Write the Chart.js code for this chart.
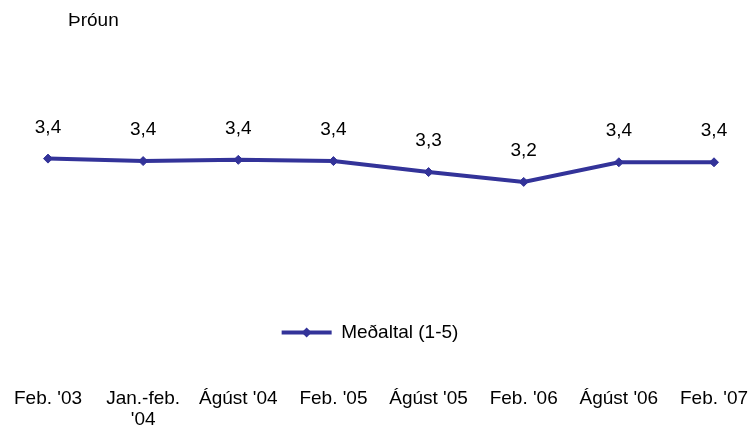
<!DOCTYPE html>
<html>
<head>
<meta charset="utf-8">
<script src="https://cdn.jsdelivr.net/npm/chart.js@4/dist/chart.umd.min.js"></script>
<style>
html,body{margin:0;padding:0;background:#fff;}
#wrap{width:755px;height:435px;}
</style>
</head>
<body>
<div id="wrap"><canvas id="c" width="755" height="435"></canvas></div>
<script>
const chartTitle = 'Þróun';
const seriesLabel = 'Meðaltal (1-5)';
const categories = ["Feb. '03", ["Jan.-feb.", "'04"], "Ágúst '04", "Feb. '05", "Ágúst '05", "Feb. '06", "Ágúst '06", "Feb. '07"];
const values = [3.42, 3.40, 3.41, 3.40, 3.31, 3.23, 3.39, 3.39];

const FONT = '"Liberation Sans", Arial, Helvetica, sans-serif';
const FONT_SIZE = 19;
const LINE_COLOR = '#333399';

function fmt(v) { return v.toFixed(1).replace('.', ','); }

const extras = {
  id: 'extras',
  afterLayout(chart) {
    const lg = chart.legend;
    if (lg) { lg.left -= 11; lg.right -= 11; }
  },
  afterDatasetsDraw(chart) {
    const ctx = chart.ctx;
    const meta = chart.getDatasetMeta(0);
    ctx.save();
    ctx.font = FONT_SIZE + 'px ' + FONT;
    ctx.fillStyle = '#000';
    ctx.textAlign = 'center';
    ctx.textBaseline = 'alphabetic';
    meta.data.forEach((pt, i) => {
      ctx.fillText(fmt(values[i]), pt.x, pt.y - 26);
    });
    ctx.textAlign = 'left';
    ctx.fillText(chartTitle, 68, 26);
    ctx.restore();
  },
  afterDraw(chart) {
    const lg = chart.legend;
    if (!lg || !lg.legendHitBoxes || !lg.legendHitBoxes.length) return;
    const hb = lg.legendHitBoxes[0];
    const cx = hb.left + 25, cy = hb.top + FONT_SIZE / 2;
    const r = 5;
    const ctx = chart.ctx;
    ctx.save();
    ctx.fillStyle = LINE_COLOR;
    ctx.beginPath();
    ctx.moveTo(cx, cy - r);
    ctx.lineTo(cx + r, cy);
    ctx.lineTo(cx, cy + r);
    ctx.lineTo(cx - r, cy);
    ctx.closePath();
    ctx.fill();
    ctx.restore();
  }
};

new Chart(document.getElementById('c'), {
  type: 'line',
  data: {
    labels: categories,
    datasets: [{
      label: seriesLabel,
      data: values,
      borderColor: LINE_COLOR,
      backgroundColor: LINE_COLOR,
      borderWidth: 4,
      pointStyle: 'rectRot',
      pointRadius: 4.5,
      pointBorderWidth: 1,
      pointBackgroundColor: LINE_COLOR,
      pointBorderColor: LINE_COLOR,
      tension: 0,
      fill: false
    }]
  },
  options: {
    responsive: false,
    animation: false,
    devicePixelRatio: 1,
    layout: { padding: { left: 48, right: 41, top: 90, bottom: 0 } },
    scales: {
      x: {
        weight: 2000,
        offset: false,
        grid: { display: false, drawTicks: false },
        border: { display: false },
        ticks: {
          color: '#000',
          font: { family: FONT, size: FONT_SIZE, lineHeight: 1.1 },
          padding: 36,
          maxRotation: 0,
          minRotation: 0,
          autoSkip: false
        },
        afterFit(scale) {
          scale.paddingLeft = 0;
          scale.paddingRight = 0;
          scale.height = 83;
        }
      },
      y: { display: false, min: 2.16, max: 3.98 }
    },
    plugins: {
      legend: {
        position: 'bottom',
        labels: {
          color: '#000',
          font: { family: FONT, size: FONT_SIZE },
          boxWidth: 50,
          boxHeight: 4,
          generateLabels(chart) {
            return chart.data.datasets.map((ds, i) => ({
              text: ds.label,
              fillStyle: ds.borderColor,
              strokeStyle: ds.borderColor,
              lineWidth: 0,
              hidden: false,
              datasetIndex: i,
              fontColor: '#000'
            }));
          }
        }
      },
      tooltip: { enabled: false },
      title: { display: false }
    }
  },
  plugins: [extras]
});
</script>
</body>
</html>
